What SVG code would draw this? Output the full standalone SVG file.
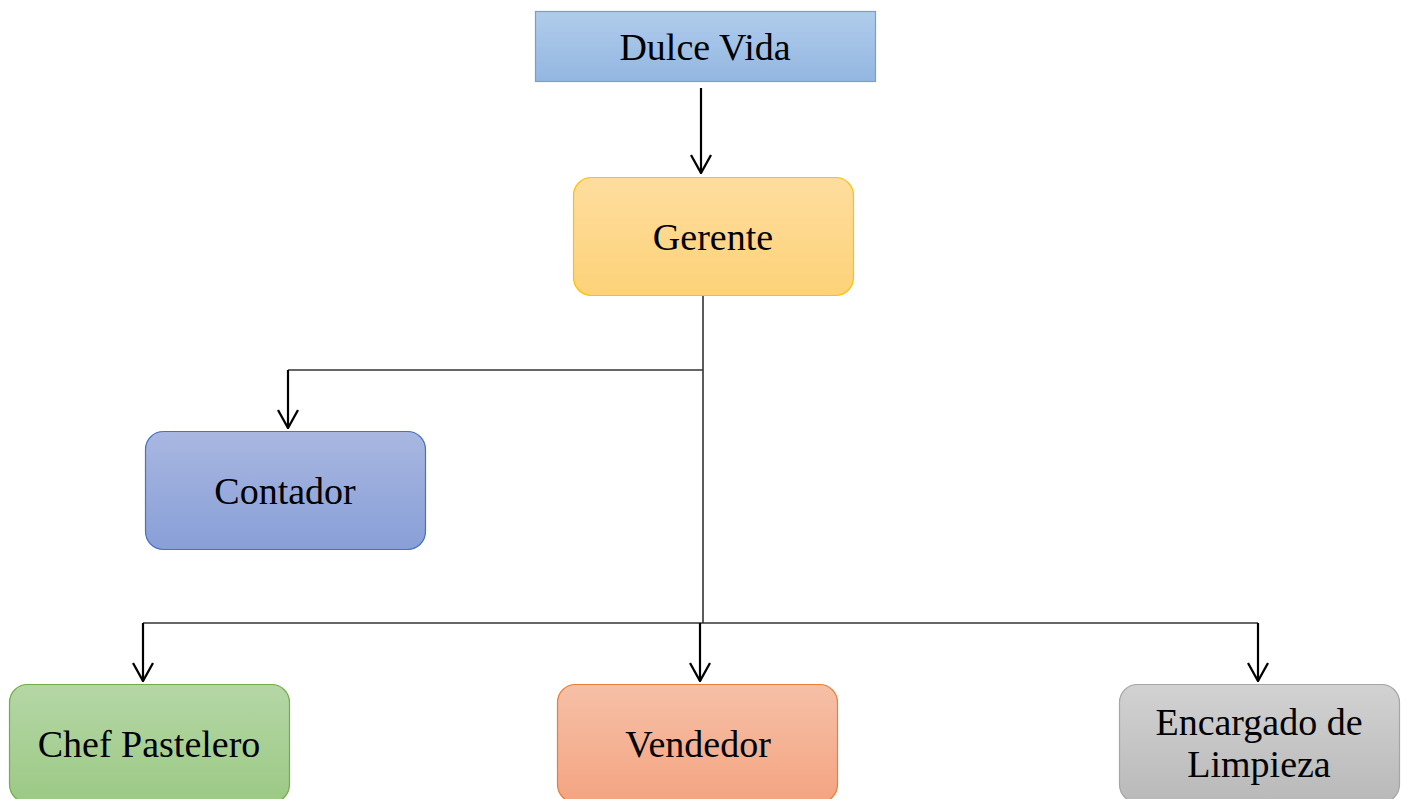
<svg xmlns="http://www.w3.org/2000/svg" width="1406" height="799" viewBox="0 0 1406 799">
<style>
.t{font-family:"Liberation Serif","Times New Roman",serif;font-size:38px;fill:#000;text-anchor:middle}
.ln{fill:none;stroke:#333;stroke-width:1.6}
.ar{fill:none;stroke:#000;stroke-width:2.2}
</style>
<defs>
<linearGradient id="gb" x1="0" y1="0" x2="0" y2="1"><stop offset="0" stop-color="#b0cceb"/><stop offset="1" stop-color="#93b7e1"/></linearGradient>
<linearGradient id="gy" x1="0" y1="0" x2="0" y2="1"><stop offset="0" stop-color="#fedd9e"/><stop offset="1" stop-color="#fdd278"/></linearGradient>
<linearGradient id="gc" x1="0" y1="0" x2="0" y2="1"><stop offset="0" stop-color="#a9b7e1"/><stop offset="1" stop-color="#889fd7"/></linearGradient>
<linearGradient id="gg" x1="0" y1="0" x2="0" y2="1"><stop offset="0" stop-color="#b5d7a6"/><stop offset="1" stop-color="#9cc985"/></linearGradient>
<linearGradient id="go" x1="0" y1="0" x2="0" y2="1"><stop offset="0" stop-color="#f6c0a7"/><stop offset="1" stop-color="#f4a481"/></linearGradient>
<linearGradient id="gr" x1="0" y1="0" x2="0" y2="1"><stop offset="0" stop-color="#d2d2d2"/><stop offset="1" stop-color="#b9b9b9"/></linearGradient>
<marker id="v" viewBox="0 0 20 22" refX="19" refY="11" markerWidth="20" markerHeight="22" markerUnits="userSpaceOnUse" orient="auto">
<path d="M1,1 L19,11 L1,21" fill="none" stroke="#000" stroke-width="2.3"/>
</marker>
</defs>
<g id="connectors">
<line class="ar" x1="701" y1="88" x2="701" y2="173" marker-end="url(#v)"/>
<polyline class="ln" points="703,295 703,623"/>
<polyline class="ln" points="703,370 288,370"/>
<line class="ar" x1="288" y1="370" x2="288" y2="428" marker-end="url(#v)"/>
<polyline class="ln" points="143,623 1258,623"/>
<line class="ar" x1="143" y1="623" x2="143" y2="681" marker-end="url(#v)"/>
<line class="ar" x1="700" y1="623" x2="700" y2="681" marker-end="url(#v)"/>
<line class="ar" x1="1258" y1="623" x2="1258" y2="681" marker-end="url(#v)"/>
</g>
<g id="dulce-vida">
<rect x="535.5" y="11.5" width="340" height="70" fill="url(#gb)" stroke="#6fa0d6" stroke-width="1.2"/>
<text class="t" x="705" y="60">Dulce Vida</text>
</g>
<g id="gerente">
<rect x="573.5" y="177.5" width="280" height="118" rx="18" fill="url(#gy)" stroke="#ffc000" stroke-width="1.2"/>
<text class="t" x="713" y="250">Gerente</text>
</g>
<g id="contador">
<rect x="145.5" y="431.5" width="280" height="118" rx="18" fill="url(#gc)" stroke="#4472c4" stroke-width="1.2"/>
<text class="t" x="285" y="504">Contador</text>
</g>
<g id="chef-pastelero">
<rect x="9.5" y="684.5" width="280" height="118" rx="18" fill="url(#gg)" stroke="#70ad47" stroke-width="1.2"/>
<text class="t" x="149" y="757">Chef Pastelero</text>
</g>
<g id="vendedor">
<rect x="557.5" y="684.5" width="280" height="118" rx="18" fill="url(#go)" stroke="#ed7d31" stroke-width="1.2"/>
<text class="t" x="698" y="757">Vendedor</text>
</g>
<g id="encargado-limpieza">
<rect x="1119.5" y="684.5" width="280" height="118" rx="18" fill="url(#gr)" stroke="#a5a5a5" stroke-width="1.2"/>
<text class="t" x="1259" y="735">Encargado de</text>
<text class="t" x="1259" y="777">Limpieza</text>
</g>
</svg>
